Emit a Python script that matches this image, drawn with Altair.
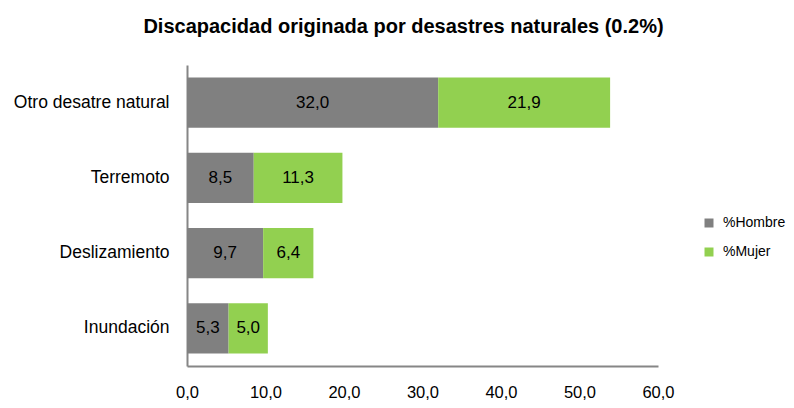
import altair as alt
import pandas as pd

categories = ["Otro desatre natural", "Terremoto", "Deslizamiento", "Inundación"]
hombre = [32.0, 8.5, 9.7, 5.3]
mujer = [21.9, 11.3, 6.4, 5.0]
series = ["%Hombre", "%Mujer"]
colors = ["#808080", "#92D050"]
x_ticks = [0, 10, 20, 30, 40, 50, 60]

rows = []
for c, h, m in zip(categories, hombre, mujer):
    rows.append({"cat": c, "serie": series[0], "v": h, "order": 0})
    rows.append({"cat": c, "serie": series[1], "v": m, "order": 1})
df = pd.DataFrame(rows)

FONT = "Liberation Sans"

base = alt.Chart(df).encode(
    y=alt.Y("cat:N", sort=categories,
            scale=alt.Scale(paddingInner=0.33, paddingOuter=0.165),
            axis=alt.Axis(title=None, labelFont=FONT, labelFontSize=17.5, labelColor="#000000",
                          labelPadding=18, ticks=False, domainColor="#868686", domainWidth=2,
                          labelLimit=300)),
)

bars = base.mark_bar().encode(
    x=alt.X("v:Q", stack="zero",
            scale=alt.Scale(domain=[0, 60], nice=False),
            axis=alt.Axis(title=None, values=x_ticks, ticks=False, grid=False,
                          labelFlush=False, labelOverlap=False,
                          labelExpr="replace(format(datum.value, '.1f'), '.', ',')",
                          labelFont=FONT, labelFontSize=16.5, labelColor="#000000",
                          labelPadding=18, domainColor="#868686", domainWidth=2)),
    color=alt.Color("serie:N", scale=alt.Scale(domain=series, range=colors),
                    legend=alt.Legend(title=None, orient="none", legendX=515, legendY=151,
                                      padding=0, labelLimit=200,
                                      symbolType="square", symbolSize=81, symbolStrokeWidth=0,
                                      labelFont=FONT, labelFontSize=14, labelColor="#000000",
                                      rowPadding=15, labelOffset=7)),
    order=alt.Order("order:Q"),
)

text = base.transform_stack(
    stack="v", groupby=["cat"], sort=[alt.SortField("order")], as_=["x0", "x1"]
).transform_calculate(
    mid="(datum.x0 + datum.x1) / 2",
    lab="replace(format(datum.v, '.1f'), '.', ',')",
).mark_text(font=FONT, fontSize=17, color="#000000").encode(
    x=alt.X("mid:Q"),
    text="lab:N",
)

chart = (bars + text).properties(
    width=471, height=301,
    padding={"left": 179, "top": 57, "right": 128, "bottom": 37},
    autosize=alt.AutoSizeParams(type="none"),
    title=alt.TitleParams("Discapacidad originada por desastres naturales (0.2%)",
                          font=FONT, fontSize=20, fontWeight="bold", color="#000000",
                          anchor="middle", frame="group", dx=-19, offset=28),
).configure_view(stroke=None)

chart.save("out.html", embed_options={"renderer": "svg", "actions": False})
